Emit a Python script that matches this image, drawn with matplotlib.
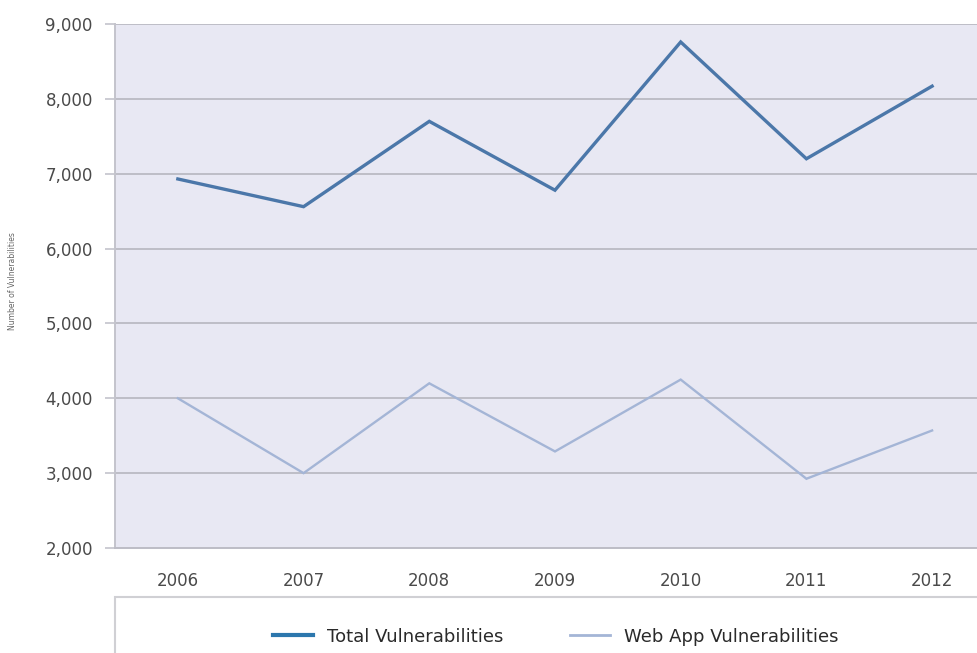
import matplotlib.pyplot as plt
from matplotlib.lines import Line2D
from matplotlib.patches import Rectangle

# Vulnerability counts per year
years = ['2006', '2007', '2008', '2009', '2010', '2011', '2012']
total_vulns = [6930, 6560, 7700, 6780, 8760, 7200, 8170]
webapp_vulns = [4000, 3000, 4200, 3290, 4250, 2925, 3570]
y_ticks = [2000, 3000, 4000, 5000, 6000, 7000, 8000, 9000]

plt.rcParams['font.family'] = ['DejaVu Sans']

fig = plt.figure(figsize=(9.77, 6.53), dpi=100)
ax = fig.add_axes([0.1177, 0.1608, 0.9007, 0.8024])
ax.set_facecolor('#e8e8f3')

x = range(len(years))
ax.plot(x, total_vulns, color='#4b77a9', lw=2.4, solid_joinstyle='miter', zorder=3)
ax.plot(x, webapp_vulns, color='#a4b5d6', lw=1.7, solid_joinstyle='miter', zorder=3)

ax.set_xlim(-0.5, len(years) - 0.5)
ax.set_ylim(2000, 9000)
ax.set_yticks(y_ticks)
ax.set_yticklabels([f'{v:,}' for v in y_ticks], fontsize=12, color='#4a4a4a')
ax.set_xticks(list(x))
ax.set_xticklabels(years, fontsize=12, color='#4a4a4a')
ax.tick_params(axis='x', length=0, pad=17)
ax.tick_params(axis='y', length=7, width=1.2, color='#c4c4cc', pad=9)

# Horizontal gridlines only
ax.grid(axis='y', color='#bdbdc6', lw=1.4, zorder=1)
ax.set_axisbelow(True)
for side in ['right', 'top']:
    ax.spines[side].set_visible(False)
ax.spines['left'].set_color('#c4c4cc')
ax.spines['left'].set_linewidth(1.4)
ax.spines['bottom'].set_color('#bdbdc6')
ax.spines['bottom'].set_linewidth(1.4)

fig.text(0.013, 0.57, 'Number of Vulnerabilities', rotation=90, fontsize=5.5,
         color='#666666', ha='center', va='center')

# Legend box along the bottom
fig.patches.append(Rectangle((0.1177, -0.02), 0.9, 0.105, transform=fig.transFigure,
                             facecolor='white', edgecolor='#d0d0d4', lw=1.5))
handles = [Line2D([], [], color='#2c77ad', lw=3.0),
           Line2D([], [], color='#a4b5d6', lw=2.0)]
fig.legend(handles, ['Total Vulnerabilities', 'Web App Vulnerabilities'],
           loc='center', bbox_to_anchor=(0.569, 0.025), ncol=2, frameon=False,
           fontsize=13, handlelength=2.2, handletextpad=0.8, columnspacing=3.7,
           labelcolor='#2a2a2a')

fig.savefig('out.png', dpi=100)
